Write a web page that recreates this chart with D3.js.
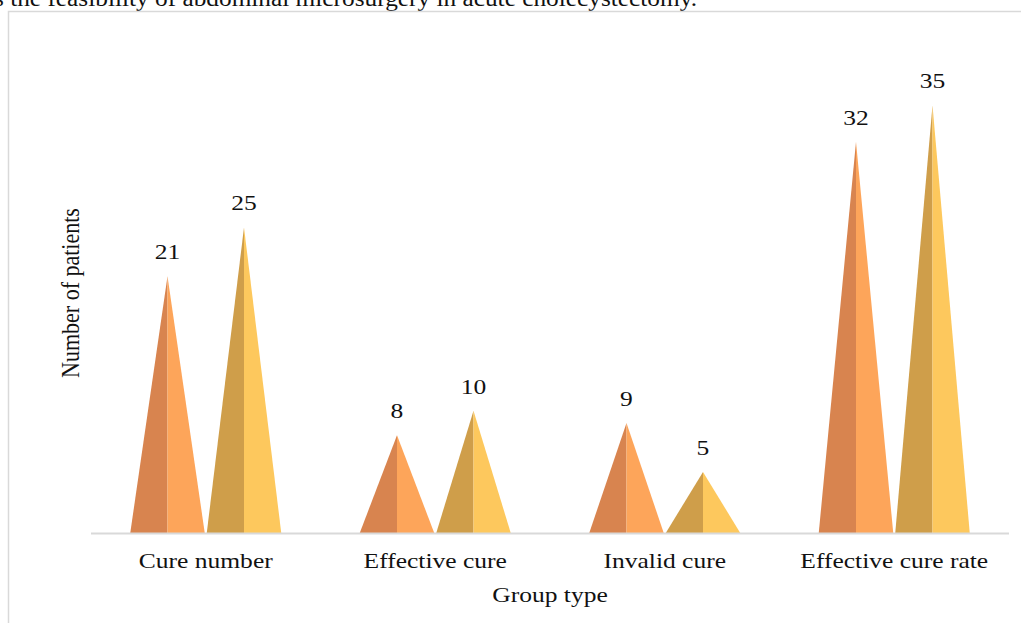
<!DOCTYPE html>
<html>
<head>
<meta charset="utf-8">
<script src="https://cdn.jsdelivr.net/npm/d3@7/dist/d3.min.js"></script>
<style>
  html, body { margin: 0; padding: 0; background: #fff; }
  svg { display: block; font-family: "Liberation Serif", "Times New Roman", serif; }
</style>
</head>
<body>
<svg id="chart" width="1021" height="623"></svg>
<script>
// Patient counts per group type, two cohorts
const categories = ["Cure number", "Effective cure", "Invalid cure", "Effective cure rate"];
const seriesA = [21, 8, 9, 32];
const seriesB = [25, 10, 5, 35];
const yTicks = [0, 10, 20, 30, 40];
const captionText = "s the feasibility of abdominal microsurgery in acute cholecystectomy.";
const xTitle = "Group type";
const yTitle = "Number of patients";

// two-tone fills: shaded left face, lit right face
const colorsA = { dark: "#D8844F", light: "#FDA55A" };
const colorsB = { dark: "#CF9E4A", light: "#FDC85D" };

const svg = d3.select("#chart");
const W = 1021, H = 623;
const plot = { left: 91, right: 1009, top: 44, bottom: 533 };
const stretch = 1.16;   // glyphs are set slightly wide

const x = d3.scaleBand().domain(categories).range([plot.left, plot.right]).padding(0);
const y = d3.scaleLinear().domain([0, d3.max(yTicks)]).range([plot.bottom, plot.top]);

// caption line running off the top edge
svg.append("text")
  .attr("x", -6).attr("y", 6)
  .attr("font-size", 24)
  .attr("fill", "#111")
  .attr("textLength", 703)
  .attr("lengthAdjust", "spacingAndGlyphs")
  .text(captionText);

// chart frame
svg.append("path")
  .attr("d", `M8.5,${H} V11.5 H${W}`)
  .attr("fill", "none")
  .attr("stroke", "#d9d9d9")
  .attr("stroke-width", 1.5);

const barW = x.bandwidth() / 3;

function drawCone(g, cx0, cx1, v, colors) {
  const xl = cx0 + 1, xr = cx1 - 1, xm = (cx0 + cx1) / 2;
  const yb = y(0), yt = y(v);
  g.append("path")
    .attr("d", `M${xl},${yb} L${xm},${yt} L${xm},${yb} Z`)
    .attr("fill", colors.dark);
  g.append("path")
    .attr("d", `M${xm},${yb} L${xm},${yt} L${xr},${yb} Z`)
    .attr("fill", colors.light);
  g.append("text")
    .attr("transform", `translate(${xm},${yt - 17}) scale(${stretch},1)`)
    .attr("text-anchor", "middle")
    .attr("font-size", 22)
    .attr("fill", "#111")
    .text(v);
}

const groups = svg.append("g").selectAll("g")
  .data(categories)
  .join("g");

groups.each(function (c, i) {
  const g = d3.select(this);
  const center = x(c) + x.bandwidth() / 2;
  drawCone(g, center - barW, center, seriesA[i], colorsA);
  drawCone(g, center, center + barW, seriesB[i], colorsB);
});

// category axis
const xAxis = svg.append("g")
  .attr("transform", `translate(0,${plot.bottom})`)
  .call(d3.axisBottom(x).tickSize(0).tickPadding(0));
xAxis.select(".domain")
  .attr("d", `M${plot.left},0.5 H${plot.right}`)
  .attr("stroke", "#d9d9d9")
  .attr("stroke-width", 2);
xAxis.selectAll(".tick text")
  .attr("font-family", "Liberation Serif, Times New Roman, serif")
  .attr("font-size", 22)
  .attr("fill", "#111")
  .attr("dy", 0)
  .attr("y", 0)
  .attr("transform", `translate(0,35) scale(${stretch},1)`);

// axis titles
svg.append("text")
  .attr("transform", `translate(${(plot.left + plot.right) / 2},602) scale(${stretch},1)`)
  .attr("text-anchor", "middle")
  .attr("font-size", 22)
  .attr("fill", "#111")
  .text(xTitle);

svg.append("text")
  .attr("transform", `translate(79,293) scale(${stretch},1) rotate(-90)`)
  .attr("text-anchor", "middle")
  .attr("font-size", 22)
  .attr("fill", "#111")
  .text(yTitle);
</script>
</body>
</html>
